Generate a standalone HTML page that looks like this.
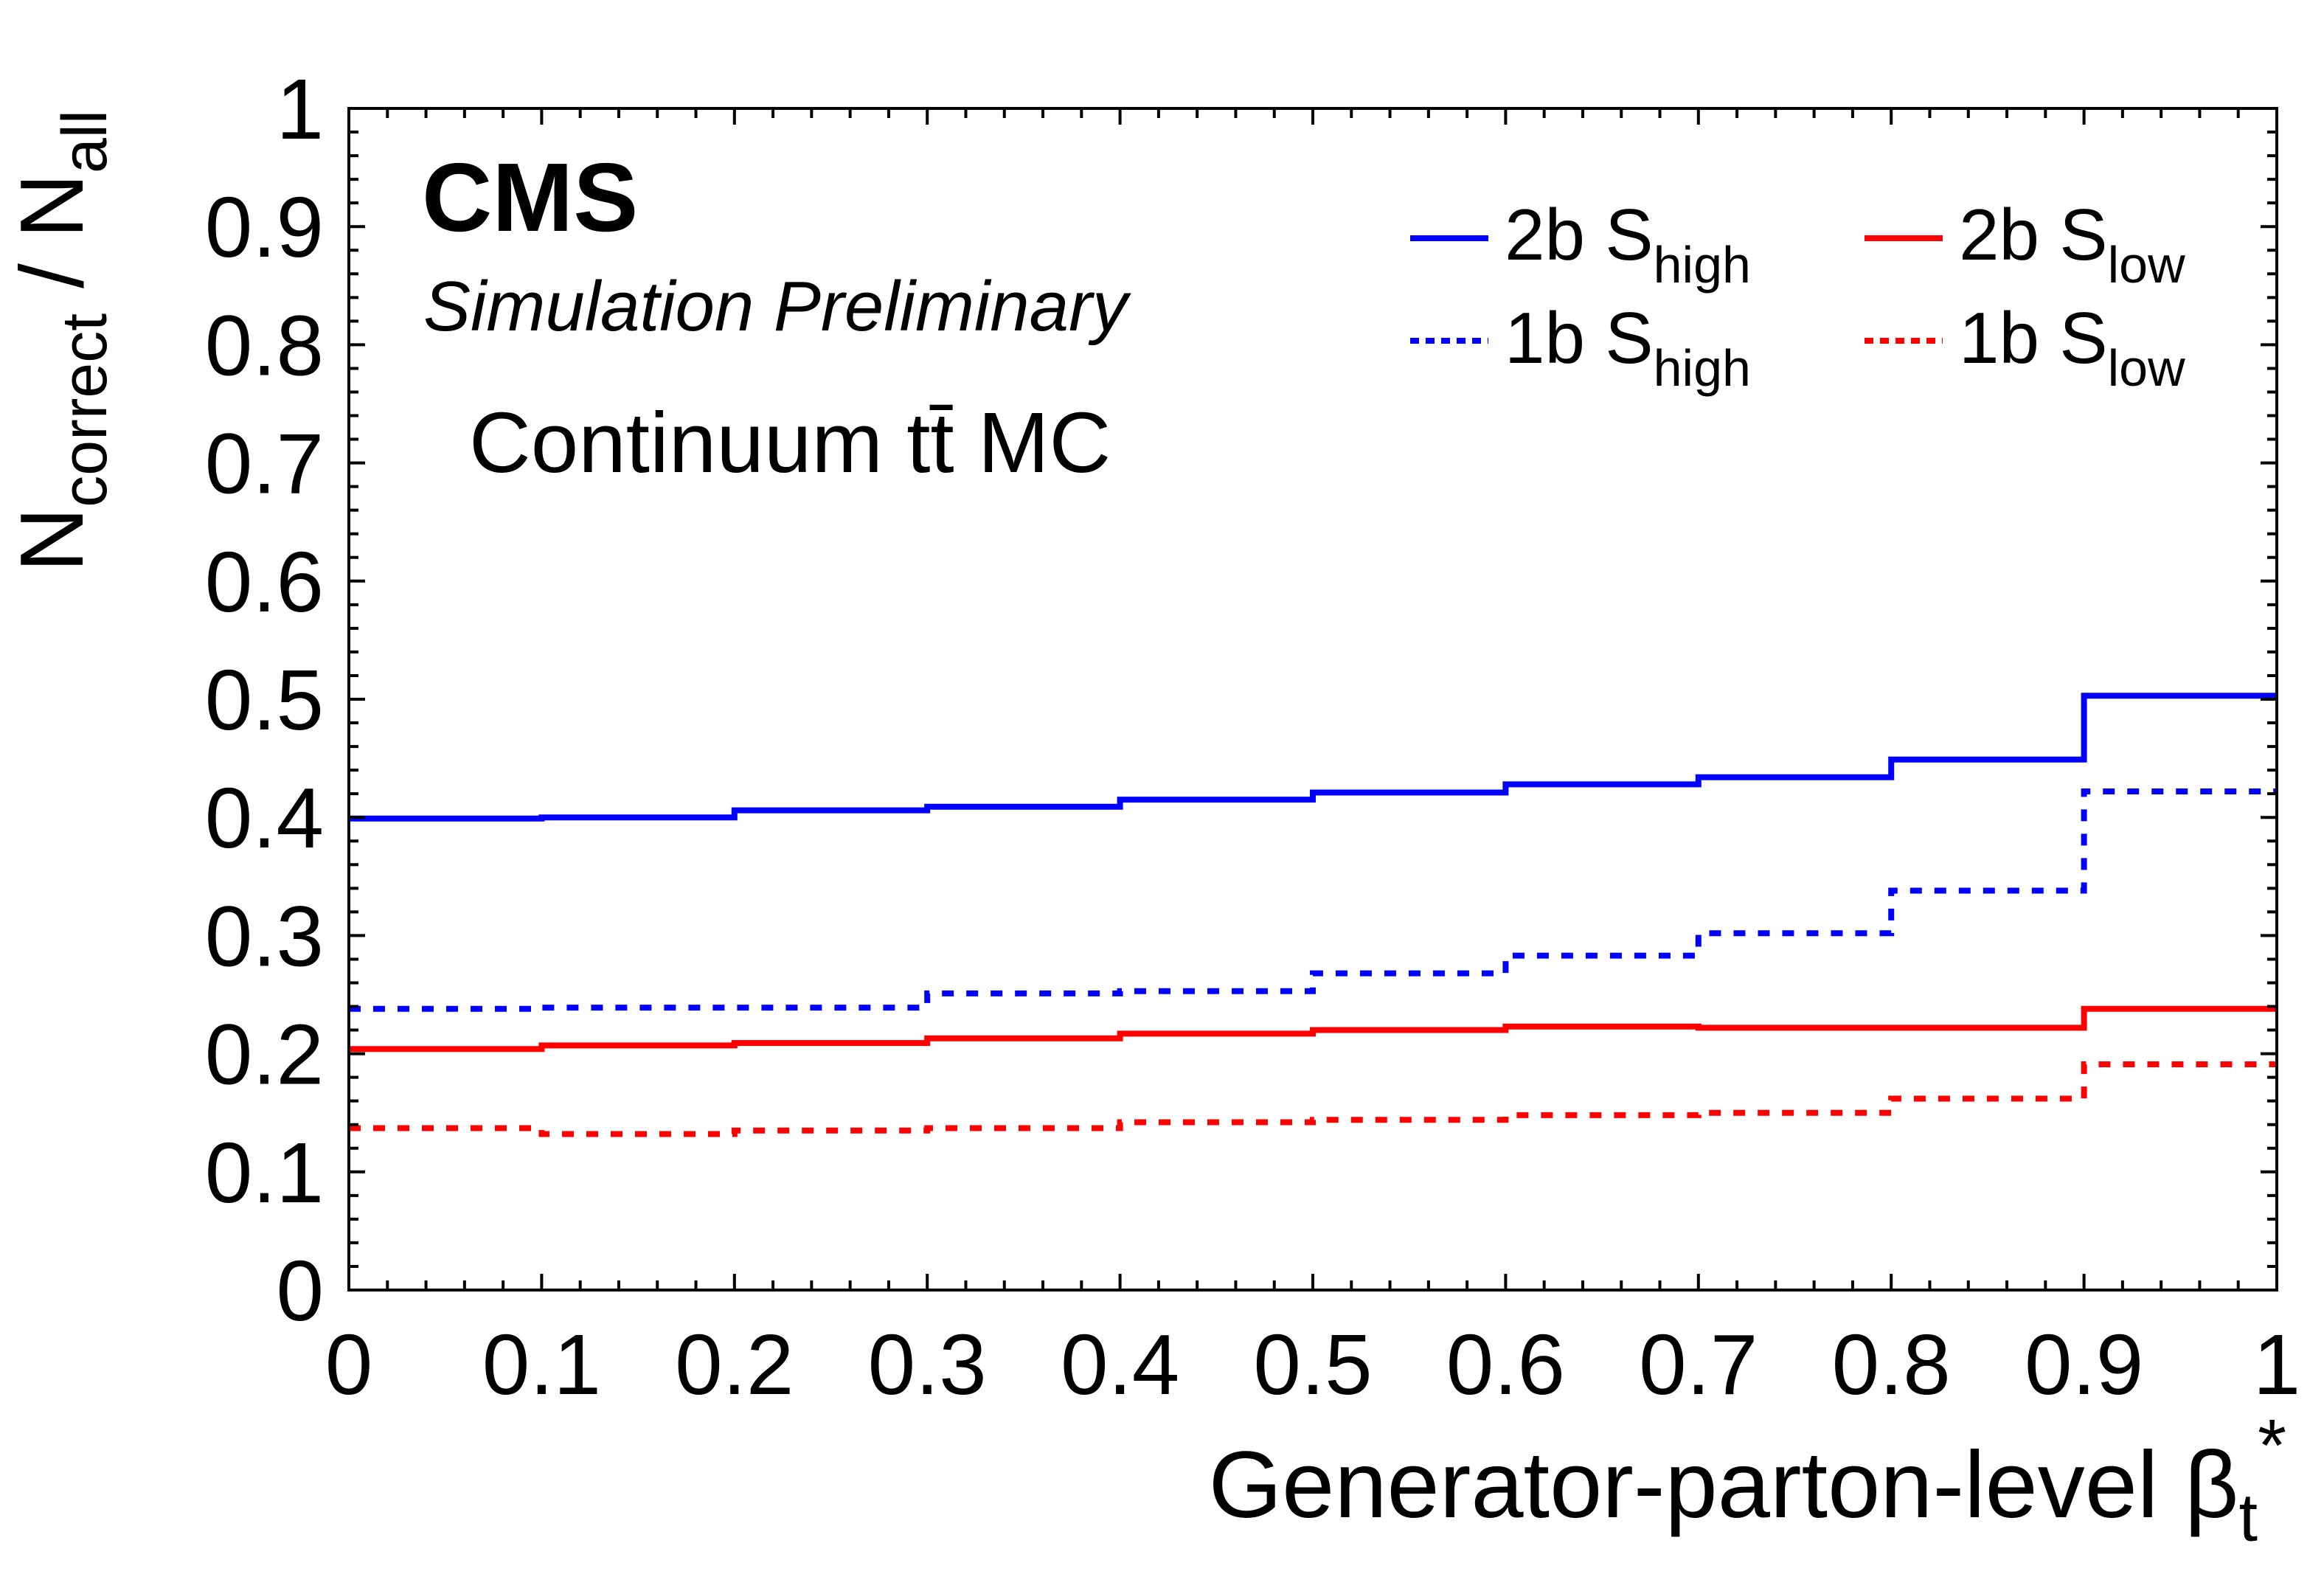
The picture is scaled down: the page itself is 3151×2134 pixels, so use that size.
<!DOCTYPE html>
<html><head><meta charset="utf-8"><style>
html,body{margin:0;padding:0;background:#fff;}
svg{display:block;font-family:"Liberation Sans",sans-serif;}
</style></head><body>
<svg id="chart" width="3151" height="2134" viewBox="0 0 3151 2134" xmlns="http://www.w3.org/2000/svg">
<rect width="3151" height="2134" fill="#fff"/>
<g id="series"></g>
<g id="axes"></g>
<text x="572" y="313" font-size="132" font-weight="bold">CMS</text>
<text x="574" y="448" font-size="96" font-style="italic">Simulation Preliminary</text>
<text x="636" y="640" font-size="116">Continuum tt̄ MC</text>
<text transform="translate(112,149) rotate(-90)" text-anchor="end" font-size="122">N<tspan font-size="86" dy="32">correct</tspan><tspan dy="-32"> / N</tspan><tspan font-size="86" dy="32">all</tspan></text>
<text x="3100" y="2057" text-anchor="end" font-size="128">Generator-parton-level β<tspan font-size="92" dy="32">t</tspan><tspan font-size="100" dy="-95">*</tspan></text>
<g>
<line x1="1912" y1="323" x2="2018" y2="323" stroke="#0000ff" stroke-width="8"/>
<text x="2040" y="352" font-size="98">2b S<tspan font-size="70" dy="31">high</tspan></text>
<line x1="1912" y1="462" x2="2018" y2="462" stroke="#0000ff" stroke-width="8" stroke-dasharray="12 9"/>
<text x="2040" y="492" font-size="98">1b S<tspan font-size="70" dy="31">high</tspan></text>
<line x1="2528" y1="323" x2="2634" y2="323" stroke="#ff0000" stroke-width="8"/>
<text x="2656" y="352" font-size="98">2b S<tspan font-size="70" dy="31">low</tspan></text>
<line x1="2528" y1="462" x2="2634" y2="462" stroke="#ff0000" stroke-width="8" stroke-dasharray="12 9"/>
<text x="2656" y="492" font-size="98">1b S<tspan font-size="70" dy="31">low</tspan></text>
</g>
</svg>
<script>
const binEdges = [0,0.1,0.2,0.3,0.4,0.5,0.6,0.7,0.8,0.9,1.0];
const shigh2b = [0.399,0.400,0.406,0.409,0.415,0.421,0.428,0.434,0.449,0.503];
const shigh1b = [0.238,0.239,0.239,0.251,0.253,0.268,0.283,0.302,0.338,0.422];
const slow2b = [0.204,0.207,0.209,0.213,0.217,0.220,0.223,0.222,0.222,0.238];
const slow1b = [0.137,0.132,0.135,0.137,0.142,0.144,0.148,0.150,0.162,0.191];
const xTickLabels = ["0","0.1","0.2","0.3","0.4","0.5","0.6","0.7","0.8","0.9","1"];
const yTickLabels = ["0","0.1","0.2","0.3","0.4","0.5","0.6","0.7","0.8","0.9","1"];

const L=473,R=3087,T=147,B=1749;
const X=v=>L+(R-L)*v;
const Y=v=>B-(B-T)*v;
const NS='http://www.w3.org/2000/svg';
const sg=document.getElementById('series'), ag=document.getElementById('axes');
function mk(tag,attrs,parent){const e=document.createElementNS(NS,tag);for(const k in attrs)e.setAttribute(k,attrs[k]);parent.appendChild(e);return e;}

function drawStep(vals,color,dash,name){
  let d='M'+X(binEdges[0])+','+Y(vals[0]);
  for(let i=0;i<vals.length;i++){
    if(i>0)d+=' L'+X(binEdges[i])+','+Y(vals[i]);
    d+=' L'+X(binEdges[i+1])+','+Y(vals[i]);
  }
  const p=mk('path',{d:d,fill:'none',stroke:color,'stroke-width':8},sg);
  if(dash)p.setAttribute('stroke-dasharray','16 17');
  
  
}
drawStep(shigh2b,'#0000ff',false,'series-2b-shigh');
drawStep(shigh1b,'#0000ff',true,'series-1b-shigh');
drawStep(slow2b,'#ff0000',false,'series-2b-slow');
drawStep(slow1b,'#ff0000',true,'series-1b-slow');

const fr=mk('rect',{x:L,y:T,width:R-L,height:B-T,fill:'none',stroke:'#000','stroke-width':4},ag);



let tp='';
for(let i=0;i<=50;i++){
  const v=i/50, major=(i%5===0), len=major?22:13;
  const x=X(v), y=Y(v);
  tp+=`M${x},${B}v${-len}M${x},${T}v${len}`;
  tp+=`M${L},${y}h${len}M${R},${y}h${-len}`;
}
const tk=mk('path',{d:tp,stroke:'#000','stroke-width':4,fill:'none'},ag);



xTickLabels.forEach((s,i)=>{
  const t=mk('text',{x:X(i/10),y:1890,'text-anchor':'middle','font-size':116},ag);
  t.textContent=s;
  
  
});
yTickLabels.forEach((s,i)=>{
  const t=mk('text',{x:439,y:Y(i/10)+41,'text-anchor':'end','font-size':116},ag);
  t.textContent=s;
  
  
});
</script>
</body></html>
